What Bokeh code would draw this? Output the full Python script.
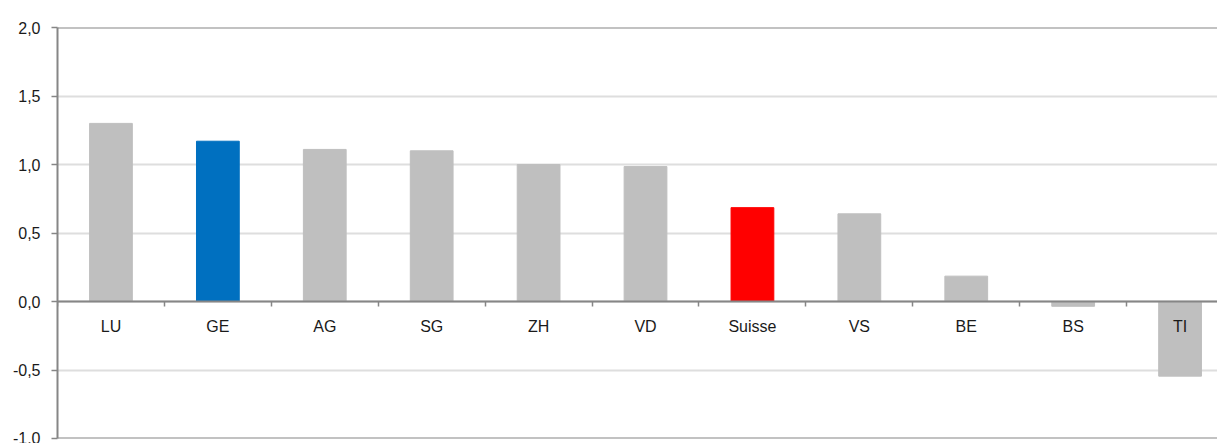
from bokeh.plotting import figure
from bokeh.models import Range1d, FixedTicker, CustomJSTickFormatter, Span, ColumnDataSource
from bokeh.core.properties import value
from bokeh.embed import file_html
from bokeh.resources import INLINE

categories = ["LU", "GE", "AG", "SG", "ZH", "VD", "Suisse", "VS", "BE", "BS", "TI"]
values = [1.30, 1.17, 1.11, 1.10, 1.00, 0.985, 0.685, 0.64, 0.185, -0.035, -0.545]
colors = ["#bfbfbf", "#0070c0", "#bfbfbf", "#bfbfbf", "#bfbfbf", "#bfbfbf",
          "#ff0000", "#bfbfbf", "#bfbfbf", "#bfbfbf", "#bfbfbf"]
y_ticks = [-1.0, -0.5, 0.0, 0.5, 1.0, 1.5, 2.0]
x_visible_end = 10.85  # the reference crops the last category at the right edge

n = len(categories)
centers = [i + 0.5 for i in range(n)]
src = ColumnDataSource(dict(x=centers, top=values, color=colors, label=categories,
                            zero=[0.0] * n))

p = figure(width=1217, height=443, output_backend="svg", toolbar_location=None,
           x_range=Range1d(0, x_visible_end), y_range=Range1d(y_ticks[0], y_ticks[-1]),
           min_border_left=57, min_border_top=27, min_border_bottom=5, min_border_right=0)
p.outline_line_color = None
p.background_fill_color = "white"

p.vbar(x="x", top="top", bottom=0, width=0.40, color="color", source=src)

axis_col = "#868686"
font = "Liberation Sans"

# y axis
ya = p.yaxis[0]
ya.ticker = FixedTicker(ticks=y_ticks)
ya.formatter = CustomJSTickFormatter(code="return tick.toFixed(1).replace('.', ',');")
ya.axis_line_color = axis_col
ya.axis_line_width = 2
ya.major_tick_line_color = axis_col
ya.major_tick_line_width = 1.5
ya.major_tick_out = 6
ya.major_tick_in = 0
ya.minor_tick_line_color = None
ya.major_label_standoff = 11
ya.major_label_text_font = font
ya.major_label_text_font_size = "16px"
ya.major_label_text_color = "#1a1a1a"

p.ygrid.ticker = FixedTicker(ticks=y_ticks)
p.ygrid.grid_line_color = "#dedede"
p.ygrid.grid_line_width = 2
p.xgrid.grid_line_color = None

# x axis at zero
xa = p.xaxis[0]
xa.fixed_location = 0
xa.ticker = FixedTicker(ticks=list(range(n + 1)))
xa.axis_line_color = axis_col
xa.axis_line_width = 2
xa.major_tick_line_color = axis_col
xa.major_tick_line_width = 1.5
xa.major_tick_out = 5
xa.major_tick_in = 0
xa.minor_tick_line_color = None
xa.major_label_text_font_size = "0px"
xa.major_label_text_color = None

p.text(x="x", y="zero", text="label", source=src, y_offset=25,
       text_align="center", text_baseline="middle",
       text_font=value(font), text_font_size="16px", text_color="#1a1a1a")

p.add_layout(Span(location=y_ticks[-1], dimension="width", line_color=axis_col, line_width=2))
p.add_layout(Span(location=y_ticks[0], dimension="width", line_color=axis_col, line_width=2))

open("out.html", "w").write(file_html(p, INLINE))
